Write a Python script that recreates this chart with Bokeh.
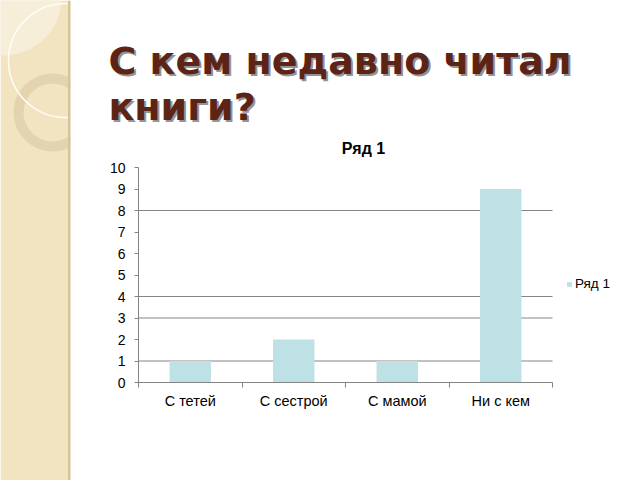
from bokeh.plotting import figure
from bokeh.models import Range1d, FixedTicker, Legend, LegendItem
from bokeh.core.properties import value
from bokeh.embed import file_html
from bokeh.resources import INLINE

# ---- data ----
categories = ["С тетей", "С сестрой", "С мамой", "Ни с кем"]
values = [1, 2, 1, 9]
series_name = "Ряд 1"
y_ticks = [0, 1, 2, 3, 4, 5, 6, 7, 8, 9, 10]
grid_values = [1, 3, 4, 8]
slide_title = ["С кем недавно читал", "книги?"]

# ---- layout (page pixels) ----
W, H = 640, 480
PL, PR, PT, PB = 138, 552, 167, 382          # chart plot area
n = len(categories)
ymax = y_ticks[-1]
ux = (PR - PL) / n
uy = (PB - PT) / ymax

p = figure(width=W, height=H, output_backend="svg", toolbar_location=None, title=None,
           x_range=Range1d(-PL / ux, (W - PL) / ux),
           y_range=Range1d(-(H - PB) / uy, PB / uy), min_border=0)
p.outline_line_color = None
p.background_fill_color = "white"
p.border_fill_color = "white"
p.xgrid.grid_line_color = None
p.ygrid.grid_line_color = None
p.extra_x_ranges = {"px": Range1d(0, W)}
p.extra_y_ranges = {"py": Range1d(H, 0)}
PX = dict(x_range_name="px", y_range_name="py")

# ---- decorative left strip ----
p.quad(left=0, right=68, top=0, bottom=H, fill_color="#F2E3C1", line_color=None, **PX)
p.circle(x=3, y=-3, radius=58, fill_color="#F7EEDA", line_color=None, **PX)
p.annulus(x=52, y=112, inner_radius=29, outer_radius=39, fill_color="#D8C8A4",
          fill_alpha=0.6, line_color=None, **PX)
p.circle(x=65, y=60, radius=57, fill_color=None, line_color="#FFFDF4", line_width=1.6, **PX)
p.quad(left=70, right=135, top=0, bottom=150, fill_color="white", line_color=None, **PX)
p.quad(left=67.5, right=70, top=0, bottom=H, fill_color="#D5C49B", line_color=None, **PX)

# ---- slide title ----
base_x = [108, 108]
base_y = [60, 106]
p.text(x=[bx + 2 for bx in base_x], y=[by + 2 for by in base_y], text=slide_title,
       text_font=value("DejaVu Sans"), text_font_style="bold", text_font_size="38px",
       text_color="#2a2a2a", text_alpha=0.5, text_baseline="alphabetic", **PX)
p.text(x=base_x, y=base_y, text=slide_title,
       text_font=value("DejaVu Sans"), text_font_style="bold", text_font_size="38px",
       text_color="#5C2416", text_baseline="alphabetic", **PX)

# ---- chart title ----
p.text(x=[363], y=[148], text=[series_name], text_font=value("Liberation Sans"),
       text_font_style="bold", text_font_size="16px", text_color="black",
       text_align="center", text_baseline="alphabetic", **PX)

axc = "#848484"
# ---- grid lines ----
p.segment(x0=[0] * len(grid_values), x1=[n] * len(grid_values), y0=grid_values, y1=grid_values,
          line_color=axc, line_width=1)

# ---- bars ----
positions = [i + 0.5 for i in range(n)]
bars = p.vbar(x=positions, top=values, width=0.4, fill_color="#BDE1E4", line_color=None)

# ---- axes ----
xa = p.xaxis[0]
xa.fixed_location = 0
xa.bounds = (0, n)
xa.ticker = FixedTicker(ticks=positions, minor_ticks=list(range(n + 1)))
xa.major_label_overrides = {pos: c for pos, c in zip(positions, categories)}
xa.major_tick_line_color = None
xa.minor_tick_line_color = axc
xa.minor_tick_out = 5
xa.minor_tick_in = 0
xa.axis_line_color = axc
xa.major_label_text_font = "Liberation Sans"
xa.major_label_text_font_size = "14.5px"
xa.major_label_text_color = "black"
xa.major_label_standoff = 4

ya = p.yaxis[0]
ya.fixed_location = 0
ya.bounds = (0, ymax)
ya.ticker = FixedTicker(ticks=y_ticks)
ya.major_tick_line_color = axc
ya.major_tick_out = 4
ya.major_tick_in = 0
ya.minor_tick_line_color = None
ya.axis_line_color = axc
ya.major_label_text_font = "Liberation Sans"
ya.major_label_text_font_size = "14px"
ya.major_label_text_color = "black"
ya.major_label_standoff = 9

# ---- legend ----
legend = Legend(items=[LegendItem(label=series_name, renderers=[bars])],
                location=(566, H - 291), orientation="vertical",
                glyph_width=6, glyph_height=6, label_standoff=3, label_height=14,
                padding=0, margin=0, border_line_color=None, background_fill_alpha=0,
                label_text_font="Liberation Sans", label_text_font_size="13.5px",
                label_text_color="black")
p.add_layout(legend)

open("out.html", "w").write(file_html(p, INLINE))
